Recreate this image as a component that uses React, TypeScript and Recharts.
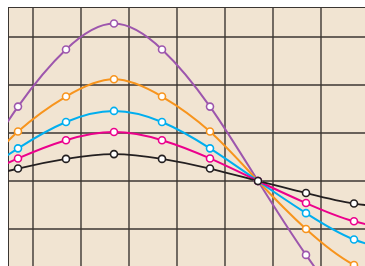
import React from "react";
import { LineChart, Line, XAxis, YAxis, ReferenceLine } from "recharts";

const xValues = [-1, 0, 1, 2, 3, 4, 5, 6, 7, 8];
const purple = [0, 1.55, 2.74, 3.28, 2.74, 1.55, 0, -1.54, -2.74, -3.28];
const orange = [0, 1.03, 1.76, 2.12, 1.76, 1.03, 0, -1.0, -1.75, -2.12];
const cyan = [0, 0.68, 1.23, 1.46, 1.23, 0.68, 0, -0.67, -1.22, -1.46];
const magenta = [0, 0.47, 0.85, 1.02, 0.85, 0.47, 0, -0.46, -0.84, -1.02];
const black = [0, 0.26, 0.46, 0.56, 0.46, 0.26, 0, -0.25, -0.47, -0.56];

const xDomain: [number, number] = [-0.2083, 7.2292];
const yDomain: [number, number] = [-1.771, 3.625];
const xGrid = [0.3125, 1.3125, 2.3125, 3.3125, 4.3125, 5.3125, 6.3125];
const yGrid = [3, 2, 1, 0, -1];

const data = xValues.map((x, i) => ({
  x,
  purple: purple[i],
  orange: orange[i],
  cyan: cyan[i],
  magenta: magenta[i],
  black: black[i],
}));

const series = [
  { key: "purple", color: "#9d56ad", width: 2 },
  { key: "orange", color: "#f7941d", width: 2 },
  { key: "cyan", color: "#00aeef", width: 2 },
  { key: "magenta", color: "#ec008c", width: 2 },
  { key: "black", color: "#231f20", width: 1.8 },
];

const gridColor = "#3b3632";

export default function App() {
  return (
    <div
      style={{
        position: "fixed",
        left: 8,
        top: 7,
        width: 357,
        height: 259,
        overflow: "hidden",
        background: "#f1e4d2",
      }}
    >
      <LineChart width={357} height={259} data={data} margin={{ top: 0, right: 0, bottom: 0, left: 0 }}>
        <XAxis dataKey="x" type="number" domain={xDomain} allowDataOverflow hide />
        <YAxis type="number" domain={yDomain} allowDataOverflow hide />
        <ReferenceLine x={xDomain[0]} stroke={gridColor} strokeWidth={2} />
        <ReferenceLine y={yDomain[1]} stroke={gridColor} strokeWidth={2} />
        {xGrid.map((v) => (
          <ReferenceLine key={"vx" + v} x={v} stroke={gridColor} strokeWidth={1.4} />
        ))}
        {yGrid.map((v) => (
          <ReferenceLine key={"hy" + v} y={v} stroke={gridColor} strokeWidth={1.4} />
        ))}
        {series.map((s) => (
          <Line
            key={s.key}
            dataKey={s.key}
            type="natural"
            stroke={s.color}
            strokeWidth={s.width}
            dot={{ r: 3.5, fill: "#ffffff", stroke: s.color, strokeWidth: 1.6 }}
            activeDot={false}
            isAnimationActive={false}
          />
        ))}
      </LineChart>
    </div>
  );
}
